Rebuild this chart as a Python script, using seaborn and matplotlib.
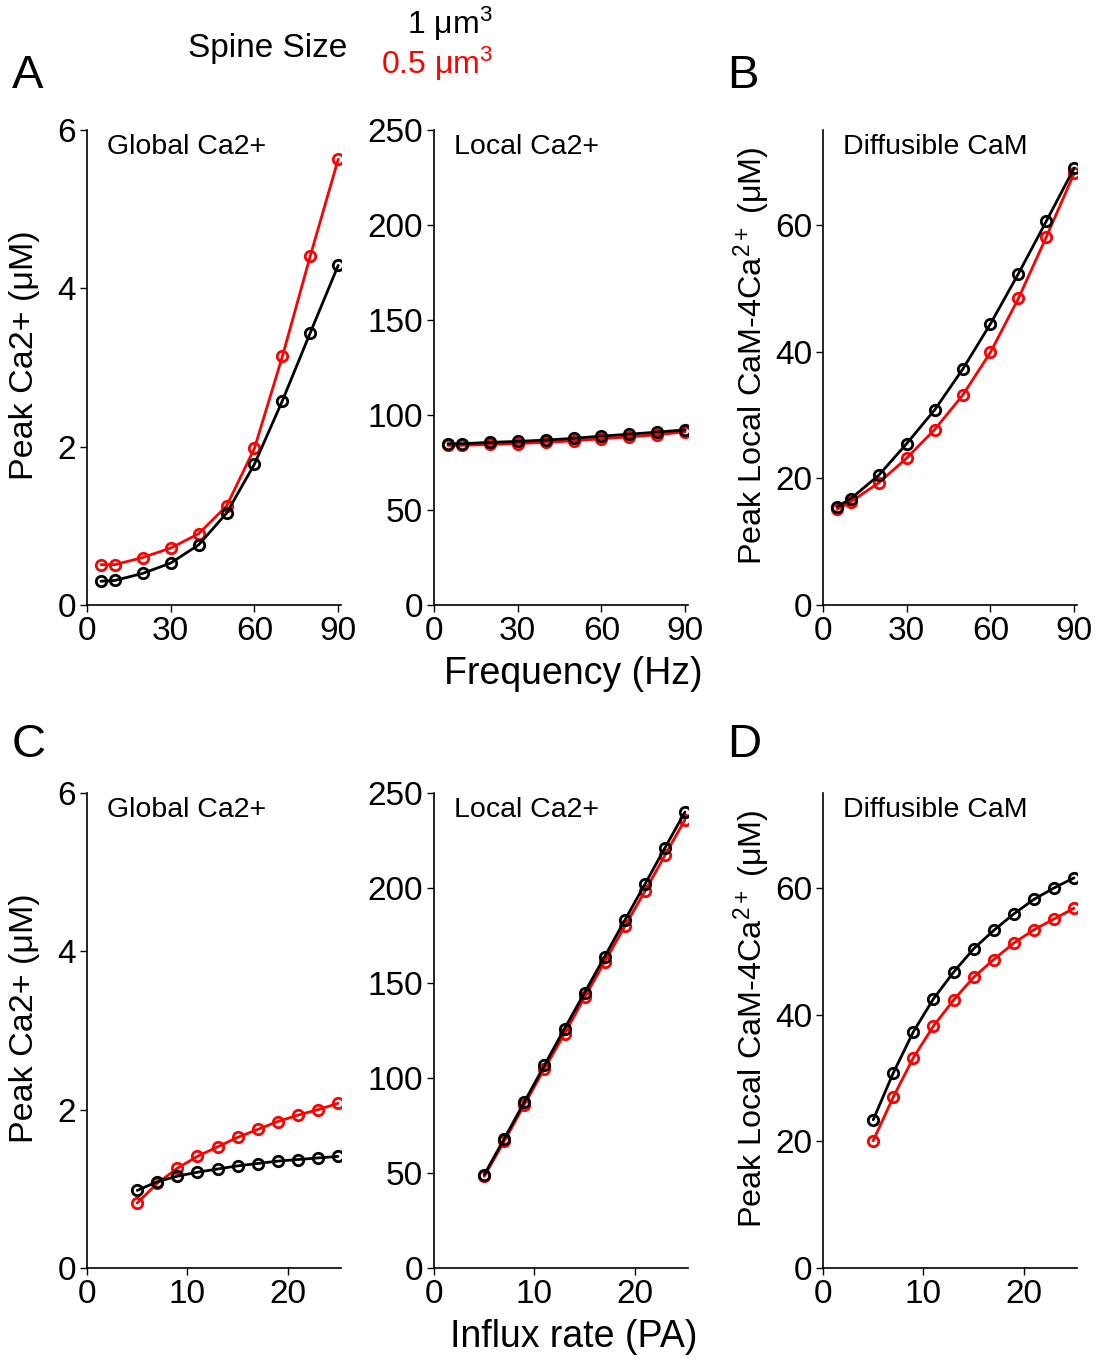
import matplotlib
matplotlib.use("Agg")
import matplotlib.pyplot as plt
import seaborn as sns
import numpy as np
import pandas as pd

sns.set_style("ticks")
plt.rcParams['font.family'] = ['Liberation Sans', 'DejaVu Sans']
plt.rcParams['mathtext.fontset'] = 'custom'
plt.rcParams['mathtext.rm'] = 'Liberation Sans'
plt.rcParams['mathtext.it'] = 'Liberation Sans'
for key in ('text.color', 'axes.labelcolor', 'xtick.color', 'ytick.color',
            'axes.edgecolor'):
    plt.rcParams[key] = 'black'

# Frequency protocol (Hz)
freq = [5, 10, 20, 30, 40, 50, 60, 70, 80, 90]
glob_freq_1 = [0.30, 0.31, 0.40, 0.53, 0.76, 1.16, 1.78, 2.58, 3.44, 4.29]
glob_freq_05 = [0.51, 0.51, 0.60, 0.72, 0.90, 1.25, 1.98, 3.14, 4.41, 5.63]
loc_freq_1 = [84.9, 84.9, 85.6, 86.1, 86.8, 87.7, 88.9, 89.9, 91.0, 92.2]
loc_freq_05 = [84.0, 84.0, 84.5, 85.0, 85.6, 86.4, 87.5, 88.5, 89.6, 91.2]
cam_freq_1 = [15.5, 16.8, 20.5, 25.5, 30.8, 37.2, 44.4, 52.3, 60.6, 69.0]
cam_freq_05 = [15.1, 16.3, 19.3, 23.2, 27.7, 33.1, 39.9, 48.4, 58.1, 68.2]

# Influx-rate protocol (PA)
influx = [5, 7, 9, 11, 13, 15, 17, 19, 21, 23, 25]
glob_inf_1 = [0.98, 1.09, 1.16, 1.21, 1.25, 1.29, 1.32, 1.35, 1.37, 1.39, 1.41]
glob_inf_05 = [0.82, 1.07, 1.26, 1.41, 1.53, 1.65, 1.75, 1.85, 1.93, 2.00, 2.08]
loc_inf_1 = [49.1, 68.1, 87.4, 106.7, 126.0, 144.9, 163.9, 183.0, 201.9, 221.1, 240.0]
loc_inf_05 = [48.2, 66.7, 86.0, 104.9, 123.3, 142.5, 161.1, 179.8, 198.2, 217.2, 236.0]
cam_inf_1 = [23.4, 30.8, 37.3, 42.5, 46.7, 50.4, 53.3, 55.9, 58.2, 60.0, 61.6]
cam_inf_05 = [20.1, 27.0, 33.2, 38.2, 42.3, 45.9, 48.7, 51.3, 53.4, 55.1, 56.8]

W, H = 1103, 1360
fig = plt.figure(figsize=(W / 100, H / 100), dpi=100)

def add_ax(x0, y_top, x1, y_bot):
    return fig.add_axes([x0 / W, 1 - y_bot / H, (x1 - x0) / W, (y_bot - y_top) / H])

TICK_FS = 24
TITLE_FS = 20.5
XLAB_FS = 27

def draw(ax, x, y1, y05, xlim, ylim, xticks, yticks, title):
    for y, c in ((y05, 'red'), (y1, 'black')):
        sns.lineplot(x=x, y=y, ax=ax, color=c, linewidth=2, marker='o',
                     markersize=7.5, markerfacecolor='none', markeredgecolor=c,
                     markeredgewidth=2)
    ax.set_xlim(*xlim)
    ax.set_ylim(*ylim)
    ax.set_xticks(xticks)
    ax.set_yticks(yticks)
    ax.tick_params(labelsize=TICK_FS, length=5, width=1, direction='out', pad=3)
    for s in ('top', 'right'):
        ax.spines[s].set_visible(False)
    for s in ('left', 'bottom'):
        ax.spines[s].set_linewidth(1.2)
    ax.text(0.08, 0.965, title, transform=ax.transAxes, fontsize=TITLE_FS,
            ha='left', va='center')
    ax.set_xlabel('')
    ax.set_ylabel('')

def ylab(ax, text, size, x_px):
    ax.set_ylabel(text, fontsize=size)
    bbox = ax.get_position()
    x_axes = (x_px / W - bbox.x0) / bbox.width
    ax.yaxis.set_label_coords(x_axes, 0.525)

def xlab(ax, text):
    ax.set_xlabel(text, fontsize=XLAB_FS)
    ax.xaxis.set_label_coords(0.55, -0.108)

# Top row: frequency
axA1 = add_ax(87, 130, 341, 605)
draw(axA1, freq, glob_freq_1, glob_freq_05, (0, 91), (0, 6),
     [0, 30, 60, 90], [0, 2, 4, 6], 'Global Ca2+')
ylab(axA1, 'Peak Ca2+ (μM)', 24.5, 40)

axA2 = add_ax(434, 130, 688, 605)
draw(axA2, freq, loc_freq_1, loc_freq_05, (0, 91), (0, 250),
     [0, 30, 60, 90], [0, 50, 100, 150, 200, 250], 'Local Ca2+')
xlab(axA2, 'Frequency (Hz)')

axB = add_ax(823, 130, 1077, 605)
draw(axB, freq, cam_freq_1, cam_freq_05, (0, 91), (0, 75),
     [0, 30, 60, 90], [0, 20, 40, 60], 'Diffusible CaM')
ylab(axB, 'Peak Local CaM-4Ca$^{2+}$ (μM)', 23.3, 773)

# Bottom row: influx rate
axC1 = add_ax(87, 793, 341, 1268)
draw(axC1, influx, glob_inf_1, glob_inf_05, (0, 25.3), (0, 6),
     [0, 10, 20], [0, 2, 4, 6], 'Global Ca2+')
ylab(axC1, 'Peak Ca2+ (μM)', 24.5, 40)

axC2 = add_ax(434, 793, 688, 1268)
draw(axC2, influx, loc_inf_1, loc_inf_05, (0, 25.3), (0, 250),
     [0, 10, 20], [0, 50, 100, 150, 200, 250], 'Local Ca2+')
xlab(axC2, 'Influx rate (PA)')

axD = add_ax(823, 793, 1077, 1268)
draw(axD, influx, cam_inf_1, cam_inf_05, (0, 25.3), (0, 75),
     [0, 10, 20], [0, 20, 40, 60], 'Diffusible CaM')
ylab(axD, 'Peak Local CaM-4Ca$^{2+}$ (μM)', 23.3, 773)

# Panel letters
for letter, (px, py) in {'A': (12, 76), 'B': (727, 76),
                         'C': (12, 745), 'D': (727, 745)}.items():
    fig.text(px / W, 1 - py / H, letter, fontsize=34, ha='left', va='center')

# Spine-size key
fig.text(347 / W, 1 - 48 / H, 'Spine Size', fontsize=24, ha='right', va='center')
fig.text(493 / W, 1 - 24 / H, '1 μm$^3$', fontsize=23, ha='right', va='center',
         color='black')
fig.text(493 / W, 1 - 64 / H, '0.5 μm$^3$', fontsize=23, ha='right', va='center',
         color='red')

fig.savefig('out.png', dpi=100)
